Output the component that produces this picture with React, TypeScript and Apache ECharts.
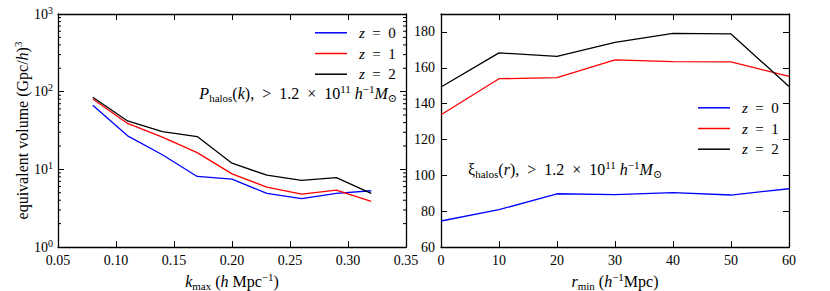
import React, { useEffect, useRef } from "react";
import * as echarts from "echarts";

const kmax = [0.08, 0.11, 0.14, 0.17, 0.2, 0.23, 0.26, 0.29, 0.32];
const volZ0 = [67, 27, 15.4, 8.1, 7.5, 4.9, 4.2, 4.9, 5.3];
const volZ1 = [80.5, 39, 26, 16.4, 8.75, 5.9, 4.8, 5.4, 3.86];
const volZ2 = [84.7, 42, 30.6, 26.4, 12.0, 8.4, 7.2, 7.8, 4.9];

const rmin = [0, 10, 20, 30, 40, 50, 60];
const xiZ0 = [74.5, 80.8, 89.7, 89.2, 90.3, 89.0, 92.5];
const xiZ1 = [133.8, 153.9, 154.5, 164.4, 163.4, 163.3, 155.2];
const xiZ2 = [149.3, 168.3, 166.4, 174.2, 179.2, 178.9, 149.6];

const seriesNames = ["z = 0", "z = 1", "z = 2"];
const colors = ["#0000ff", "#ff0000", "#000000"];
const logMinor = [2, 3, 4, 5, 6, 7, 8, 9, 20, 30, 40, 50, 60, 70, 80, 90, 200, 300, 400, 500, 600, 700, 800, 900];

const FONT = "'Liberation Serif', 'DejaVu Serif', serif";

const richBase = {
  n: { fontFamily: FONT, fontSize: 16, lineHeight: 20, color: "#000" },
  i: { fontFamily: FONT, fontSize: 16, lineHeight: 20, fontStyle: "italic", color: "#000" },
  sub: { fontFamily: FONT, fontSize: 11, lineHeight: 10, verticalAlign: "bottom", color: "#000" },
  sup: { fontFamily: FONT, fontSize: 11, lineHeight: 10, verticalAlign: "top", color: "#000" },
};

const SP = "\u2002";

export default function App() {
  const ref = useRef<HTMLDivElement>(null);
  useEffect(() => {
    if (!ref.current) return;
    const chart = echarts.init(ref.current, null, { renderer: "svg" });

    const tickInside = { show: true, inside: true, length: 6, lineStyle: { color: "#000", width: 1 } };
    const axisLine = { show: true, onZero: false, lineStyle: { color: "#000", width: 1.3 } };
    const labelStyle = { color: "#000", fontFamily: FONT, fontSize: 14 };

    const grids = [
      { left: 58, right: 424, top: 14, bottom: 44, containLabel: false, outerBoundsMode: "none" },
      { left: 441, right: 41, top: 14, bottom: 44, containLabel: false, outerBoundsMode: "none" },
    ];

    const xAxis: any[] = [
      {
        type: "value", gridIndex: 0, min: 0.05, max: 0.35, interval: 0.05,
        axisLine, axisTick: tickInside, splitLine: { show: false },
        axisLabel: { ...labelStyle, margin: 6, formatter: (v: number) => v.toFixed(2) },
        name: "{i|k}{sub|max}{n| (}{i|h}{n| Mpc}{sup|−1}{n|)}",
        nameLocation: "middle", nameGap: 21,
        nameTextStyle: { fontFamily: FONT, rich: richBase },
      },
      {
        type: "value", gridIndex: 0, position: "top", min: 0.05, max: 0.35, interval: 0.05,
        axisLine, axisTick: tickInside, axisLabel: { show: false }, splitLine: { show: false },
      },
      {
        type: "value", gridIndex: 1, min: 0, max: 60, interval: 10,
        axisLine, axisTick: tickInside, splitLine: { show: false },
        axisLabel: { ...labelStyle, margin: 6 },
        name: "{i|r}{sub|min}{n| (}{i|h}{sup|−1}{n|Mpc)}",
        nameLocation: "middle", nameGap: 21,
        nameTextStyle: { fontFamily: FONT, rich: richBase },
      },
      {
        type: "value", gridIndex: 1, position: "top", min: 0, max: 60, interval: 10,
        axisLine, axisTick: tickInside, axisLabel: { show: false }, splitLine: { show: false },
      },
    ];

    const yAxis: any[] = [
      {
        type: "log", logBase: 10, gridIndex: 0, min: 1, max: 1000,
        axisLine, axisTick: tickInside, splitLine: { show: false },
        axisLabel: {
          margin: 5,
          fontFamily: FONT,
          formatter: (v: number) => "{b|10}{sup|" + Math.round(Math.log10(v)) + "}",
          rich: {
            b: { fontFamily: FONT, fontSize: 14, lineHeight: 18, color: "#000" },
            sup: { fontFamily: FONT, fontSize: 10, lineHeight: 10, verticalAlign: "top", color: "#000" },
          },
        },
        name: "{n|equivalent volume (Gpc/}{i|h}{n|)}{sup|3}",
        nameLocation: "middle", nameGap: 20, nameRotate: 90,
        nameTextStyle: { fontFamily: FONT, rich: richBase },
      },
      {
        type: "log", logBase: 10, gridIndex: 0, position: "right", min: 1, max: 1000,
        axisLine, axisTick: tickInside, axisLabel: { show: false }, splitLine: { show: false },
      },
      {
        type: "value", gridIndex: 1, min: 60, max: 190, interval: 20,
        axisLine, axisTick: tickInside, splitLine: { show: false },
        axisLabel: { ...labelStyle, margin: 6, showMaxLabel: false },
      },
      {
        type: "value", gridIndex: 1, position: "right", min: 60, max: 190, interval: 20,
        axisLine, axisTick: tickInside, axisLabel: { show: false }, splitLine: { show: false },
      },
    ];

    const lineSeries = (name: string, color: string, xs: number[], ys: number[], xi: number, yi: number) => ({
      type: "line", name, xAxisIndex: xi, yAxisIndex: yi,
      data: xs.map((x, k) => [x, ys[k]]),
      showSymbol: false, symbol: "none",
      lineStyle: { color, width: 1.3 }, itemStyle: { color },
      silent: true,
    });

    const minorTickSeries = {
      type: "custom", xAxisIndex: 0, yAxisIndex: 0, silent: true,
      data: logMinor.map((v) => [0.05, v]),
      renderItem: (params: any, api: any) => {
        const cs = params.coordSys;
        const y = api.coord([0.2, api.value(1)])[1];
        return {
          type: "group",
          children: [
            { type: "line", shape: { x1: cs.x, y1: y, x2: cs.x + 3, y2: y }, style: { stroke: "#000", lineWidth: 1 } },
            { type: "line", shape: { x1: cs.x + cs.width - 3, y1: y, x2: cs.x + cs.width, y2: y }, style: { stroke: "#000", lineWidth: 1 } },
          ],
        };
      },
    };

    const legendBase = {
      orient: "vertical", padding: 0, icon: "rect", itemWidth: 32, itemHeight: 1.5, itemGap: 5.7,
      data: seriesNames,
      selectedMode: false,
      formatter: (name: string) => "{i|z}{n|\u2002=\u2002" + name.slice(-1) + "}",
      textStyle: {
        fontFamily: FONT,
        padding: [0, 0, 0, 7],
        rich: {
          n: { fontFamily: FONT, fontSize: 15, lineHeight: 16, color: "#000" },
          i: { fontFamily: FONT, fontSize: 15, lineHeight: 16, fontStyle: "italic", color: "#000" },
        },
      },
    };

    const annot = (head: string) =>
      head + "{n|(}{i|" + (head.includes("P") ? "k" : "r") + "}{n|)," + SP + ">" + SP + "1.2" + SP + "×" + SP + "10}{sup|11}{n| }{i|h}{sup|−1}{i|M}{sub|⊙}";

    chart.setOption({
      animation: false,
      backgroundColor: "#fff",
      textStyle: { fontFamily: FONT },
      grid: grids,
      xAxis,
      yAxis,
      legend: [
        { ...legendBase, left: 315, top: 25.3 },
        { ...legendBase, left: 698, top: 100.3 },
      ],
      graphic: [
        {
          type: "text", x: 397, y: 93,
          style: {
            text: annot("{i|P}{sub|halos}"),
            font: "16px " + FONT,
            rich: richBase, align: "right", verticalAlign: "middle",
          },
        },
        {
          type: "text", x: 468, y: 169,
          style: {
            text: annot("{n|ξ}{sub|halos}"),
            font: "16px " + FONT,
            rich: richBase, align: "left", verticalAlign: "middle",
          },
        },
      ],
      series: [
        lineSeries(seriesNames[0], colors[0], kmax, volZ0, 0, 0),
        lineSeries(seriesNames[1], colors[1], kmax, volZ1, 0, 0),
        lineSeries(seriesNames[2], colors[2], kmax, volZ2, 0, 0),
        lineSeries(seriesNames[0], colors[0], rmin, xiZ0, 2, 2),
        lineSeries(seriesNames[1], colors[1], rmin, xiZ1, 2, 2),
        lineSeries(seriesNames[2], colors[2], rmin, xiZ2, 2, 2),
        minorTickSeries,
      ],
    });
    return () => chart.dispose();
  }, []);
  return <div ref={ref} style={{ position: "fixed", left: 0, top: 0, width: 830, height: 291 }} />;
}
